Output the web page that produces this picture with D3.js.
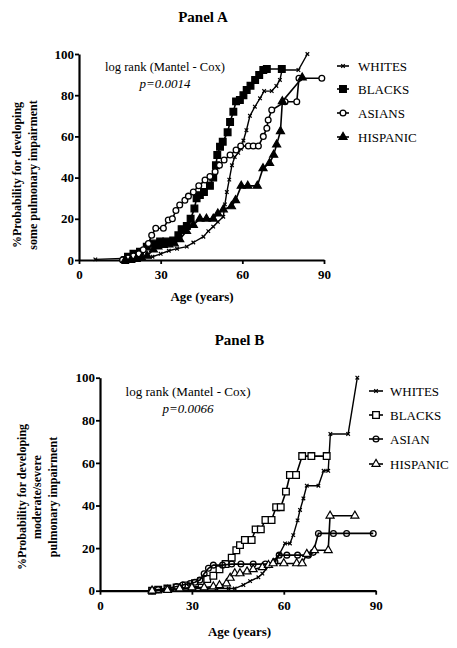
<!DOCTYPE html>
<html><head><meta charset="utf-8">
<script src="https://cdn.jsdelivr.net/npm/d3@7"></script>
<style>body{margin:0;background:#fff}</style>
</head><body>
<svg id="c" width="457" height="648" font-family="Liberation Serif"></svg>
<script>
// ---------- DATA ----------
const xTicks = [0, 30, 60, 90];
const yTicks = [0, 20, 40, 60, 80, 100];
const legendA = ["WHITES", "BLACKS", "ASIANS", "HISPANIC"];
const legendB = ["WHITES", "BLACKS", "ASIAN", "HISPANIC"];

// Panel A (age, % probability)
const whitesA = [[6,0.3],[16,0.8],[20,1],[23,1.3],[27,1.6],[30,3],[33,4.5],[36,5.5],[39.6,6.5],[42,8.5],[45.7,11.3],[47.5,14],[49.3,16.2],[51,18.5],[53,21],[53.6,27],[54.3,33],[55.2,39],[56.2,46],[57.2,50],[58.5,52],[59.5,54],[60.4,58],[61.5,63],[62.8,70],[64.6,74.4],[66.5,78.5],[68,82],[70.8,82],[72.5,84.5],[73.8,87.4],[74.6,92.2],[80.6,92.2],[83.9,100]];
const blacksA = [[17,0],[18,1.6],[20,3],[22.4,4],[24.9,6.5],[27.3,8],[29.8,9],[32,9],[34.6,9.5],[36.5,12],[37.7,15],[39.6,16.5],[41,20],[42.4,25],[43.2,30],[44.4,31.5],[45.9,33],[48.1,36],[49.3,40],[50.3,46],[50.8,51],[51.8,55],[52.8,57.4],[54.6,62],[55.5,67],[56.7,72],[57.7,77],[59.1,77.7],[60.4,80],[61.6,82.5],[63,84.6],[64.7,87.4],[66.2,89.8],[67.7,92.2],[69,92.7],[74.5,92.7]];
const asiansA = [[16,0],[18,1],[20,2],[22,3],[23.6,5],[25.5,8],[26.7,12],[28.2,15.4],[31,15.4],[32.8,19.4],[34.3,20],[35.6,24],[37,26.7],[38.9,29],[40.2,31],[42,33],[44,36],[46.3,38.8],[48.1,40.5],[50,42.9],[51.6,46],[53.3,48.5],[55.5,51],[57.7,53.4],[59.4,55.3],[62.2,55.3],[64,55.3],[65.9,55.3],[67.7,60],[69,64],[69.5,68],[70.8,72.8],[75.7,76.8],[80,76.8],[80.8,88.2],[89.2,88.2]];
const hispanicA = [[17,0],[19,0],[21,0.5],[23,1],[25,2],[27.3,5],[29,6.5],[31,7.3],[33,7.5],[35,8],[37,10],[39.5,14],[42,17],[44.4,20],[46.8,20],[49.3,20],[51,22.5],[53,24.5],[56,26],[57.5,29],[59.6,36],[62,36],[65.5,36],[67.6,44.5],[70,47],[71.5,51],[72.6,56],[74,62.5],[74.7,77],[82,88.5]];

// Panel B
const whitesB = [[17,0],[22,0.3],[26,0.6],[30,1],[34,1],[38,1],[42,1],[44,1],[46.8,2.7],[49,4.5],[51.7,6.3],[53,8],[55,11.5],[57,14.5],[58.5,17],[60.4,22.2],[62,22.2],[63.1,26.1],[64.5,33],[65.3,37.9],[66.4,43.3],[67.5,49.3],[71.3,49.3],[73,56.3],[74.5,56.3],[75.2,73.6],[81,73.6],[84,100]];
const blacksB = [[17,0],[19,0.5],[22,1],[25,1.5],[28,2.5],[31,3.5],[33,4.5],[35,5.5],[37,7],[39,10],[41,12.5],[43,15.5],[44.5,19],[45.7,21.4],[47.3,23.8],[49.5,23.8],[50.8,28.8],[52.5,28.8],[54,33.2],[56,33.2],[57.5,39.2],[59,39.2],[60.7,46.5],[62,54.3],[64,54.3],[66,63.2],[69,63.2],[74,63.2]];
const asiansB = [[17,0],[19,0.5],[22,1],[25,2],[27,2.7],[29.4,3.4],[31,4],[32.6,5],[34,8],[35.4,10.5],[37,12],[40,12],[43,12.5],[46,12.5],[50,12.5],[54,12.5],[57.1,13.6],[58.5,16.7],[61,16.7],[64.5,16.7],[68,16.7],[69.6,18],[71.3,26.9],[76.2,26.9],[80.5,26.9],[89.2,26.9]];
const hispanicB = [[17,0],[22,0.3],[26,1],[30,1.5],[34,1.5],[37,1.9],[39,2.5],[41.3,3.4],[42.5,6],[44,8.1],[45.7,8.1],[48,9],[50,10],[53,11],[55,12],[56.5,12.8],[60,12.8],[64.2,12.8],[66,12.8],[67.5,17.2],[70,19],[74.5,19],[75.1,35.2],[83.2,35.2]];

// ---------- DRAW ----------
const svg = d3.select("#c");
const symTimes = d3.symbolTimes || d3.symbolCross;

function marker(g, type, x, y, open) {
  let sym, size, fill, stroke = "#000", sw = 1;
  if (type === "w") { sym = symTimes; size = 10; fill = "none"; sw = 1.2; }
  else if (type === "s") { sym = d3.symbolSquare; size = 44; fill = open ? "#fff" : "#000"; sw = 1.3; }
  else if (type === "c") { sym = d3.symbolCircle; size = 26; fill = open === "through" ? "none" : "#fff"; sw = 1.3; }
  else { sym = d3.symbolTriangle; size = 28; fill = open ? "#fff" : "#000"; sw = 1.2; }
  g.append("path").attr("d", d3.symbol(sym, size)()).attr("transform", `translate(${x},${y})`)
    .attr("fill", fill).attr("stroke", stroke).attr("stroke-width", sw);
}

function txt(g) { return g.append("text").attr("fill", "#000"); }

function panel(cfg) {
  const x = d3.scaleLinear().domain([0, 90]).range([cfg.x0, cfg.x1]);
  const y = d3.scaleLinear().domain([0, 100]).range([cfg.y0, cfg.y1]);
  const g = svg.append("g");

  txt(g).attr("x", cfg.titleX).attr("y", cfg.titleY).attr("text-anchor", "middle")
    .attr("font-weight", "bold").attr("font-size", 15).text(cfg.title);

  const ax = g.append("g").attr("transform", `translate(0,${cfg.y0})`)
    .call(d3.axisBottom(x).tickValues(xTicks).tickSize(4).tickSizeOuter(0).tickPadding(6));
  const ay = g.append("g").attr("transform", `translate(${cfg.x0},0)`)
    .call(d3.axisLeft(y).tickValues(yTicks).tickSize(4).tickSizeOuter(0).tickPadding(1));
  [ax, ay].forEach(a => {
    a.attr("font-family", "Liberation Serif").attr("font-size", 13).attr("font-weight", "bold");
    a.select(".domain").attr("stroke-width", 2.2);
    a.selectAll(".tick line").attr("stroke-width", 1.8);
    a.selectAll("text").attr("fill", "#000");
  });

  txt(g).attr("x", cfg.xLabelX).attr("y", cfg.xLabelY).attr("text-anchor", "middle")
    .attr("font-weight", "bold").attr("font-size", 13).text("Age (years)");

  cfg.yLabel.forEach((t, i) => {
    txt(g).attr("transform", `translate(${cfg.yLabelXs[i]},${cfg.yLabelY}) rotate(-90)`)
      .attr("text-anchor", "middle").attr("dominant-baseline", "central")
      .attr("font-weight", "bold").attr("font-size", 12).text(t);
  });

  txt(g).attr("x", cfg.annX).attr("y", cfg.annY).attr("text-anchor", "middle")
    .attr("font-size", 13).attr("textLength", cfg.annW).attr("lengthAdjust", "spacingAndGlyphs")
    .text("log rank (Mantel - Cox)");
  txt(g).attr("x", cfg.annX).attr("y", cfg.annY + 17).attr("text-anchor", "middle")
    .attr("font-style", "italic").attr("font-size", 13).text(cfg.p);

  const line = d3.line().x(d => x(d[0])).y(d => y(d[1]));
  cfg.series.forEach(s => {
    g.append("path").datum(s.data).attr("d", line).attr("fill", "none")
      .attr("stroke", "#000").attr("stroke-width", s.lw);
    const mg = g.append("g");
    s.data.forEach(d => marker(mg, s.type, x(d[0]), y(d[1]), s.open));
  });

  cfg.series.forEach((s, i) => {
    const ly = cfg.legY[i];
    g.append("line").attr("x1", cfg.legX1).attr("x2", cfg.legX2).attr("y1", ly).attr("y2", ly)
      .attr("stroke", "#000").attr("stroke-width", 1.6);
    marker(g, s.type, (cfg.legX1 + cfg.legX2) / 2, ly, s.open);
    txt(g).attr("x", cfg.legTX).attr("y", ly).attr("dominant-baseline", "central")
      .attr("font-size", 13).text(cfg.legend[i]);
  });
}

panel({
  title: "Panel A", titleX: 203, titleY: 22,
  x0: 79, x1: 324, y0: 260, y1: 54,
  xLabelX: 202, xLabelY: 301,
  yLabel: ["%Probability for developing", "some pulmonary impairment"], yLabelXs: [17, 33], yLabelY: 175,
  annX: 165, annY: 71, annW: 120, p: "p=0.0014",
  legend: legendA, legX1: 337, legX2: 349, legTX: 358, legY: [66, 89, 113, 137],
  series: [
    { data: whitesA, type: "w", lw: 1.4 },
    { data: blacksA, type: "s", lw: 1.6, open: false },
    { data: asiansA, type: "c", lw: 1.6, open: "white" },
    { data: hispanicA, type: "t", lw: 1.6, open: false }
  ]
});

panel({
  title: "Panel B", titleX: 239.5, titleY: 345,
  x0: 100, x1: 375.7, y0: 590.7, y1: 377.7,
  xLabelX: 239.5, xLabelY: 636,
  yLabel: ["%Probability for developing", "moderate/severe", "pulmonary impairment"], yLabelXs: [22, 37, 53], yLabelY: 497,
  annX: 188, annY: 396, annW: 125, p: "p=0.0066",
  legend: legendB, legX1: 369, legX2: 383, legTX: 390, legY: [391, 415, 439, 464],
  series: [
    { data: whitesB, type: "w", lw: 1.4 },
    { data: blacksB, type: "s", lw: 1.6, open: true },
    { data: asiansB, type: "c", lw: 1.6, open: "through" },
    { data: hispanicB, type: "t", lw: 1.6, open: true }
  ]
});
</script>
</body></html>
